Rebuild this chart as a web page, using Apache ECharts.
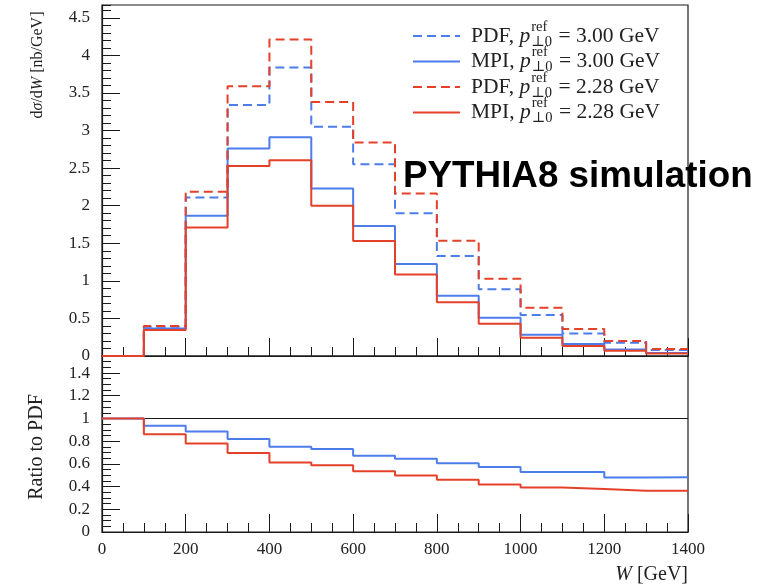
<!DOCTYPE html>
<html>
<head>
<meta charset="utf-8">
<script src="https://cdn.jsdelivr.net/npm/echarts@6/dist/echarts.min.js"></script>
<style>
  html, body { margin: 0; padding: 0; background: #fff; }
  #chart { width: 758px; height: 587px; }
</style>
</head>
<body>
<div id="chart"></div>
<script>
// Bin edges in W [GeV]
const binEdges = [0, 100, 200, 300, 400, 500, 600, 700, 800, 900, 1000, 1100, 1200, 1300, 1400];

// dσ/dW [nb/GeV] per bin
const pdf300 = [0, 0.39, 2.11, 3.34, 3.84, 3.05, 2.55, 1.90, 1.33, 0.887, 0.545, 0.30, 0.177, 0.08];
const mpi300 = [0, 0.365, 1.866, 2.76, 2.91, 2.23, 1.73, 1.223, 0.80, 0.51, 0.283, 0.158, 0.087, 0.04];
const pdf228 = [0, 0.40, 2.185, 3.59, 4.21, 3.38, 2.84, 2.163, 1.533, 1.028, 0.642, 0.359, 0.20, 0.093];
const mpi228 = [0, 0.345, 1.711, 2.527, 2.606, 2.0, 1.53, 1.086, 0.714, 0.43, 0.243, 0.133, 0.07, 0.034];

// MPI / PDF ratio per bin
const ratio300 = [1, 0.935, 0.885, 0.82, 0.75, 0.732, 0.672, 0.646, 0.605, 0.572, 0.528, 0.528, 0.48, 0.483];
const ratio228 = [1, 0.861, 0.78, 0.696, 0.613, 0.587, 0.534, 0.498, 0.46, 0.419, 0.392, 0.378, 0.363, 0.363];

// Legend entries
const legendLabels = ['PDF', 'MPI', 'PDF', 'MPI'];
const legendPt0 = ['3.00', '3.00', '2.28', '2.28'];

const SERIF = '"Liberation Serif", "DejaVu Serif", serif';
const SANS = '"Liberation Sans", Arial, sans-serif';
const BLUE = '#4d7ceb';
const RED = '#e5402a';
const INK = '#1a1a1a';
const TXT = '#222';

const legendColors = [BLUE, BLUE, RED, RED];
const legendDashed = [true, false, true, false];
const DASH = [9, 5];

// histogram values -> step-line points (left edge of each bin, plus closing edge)
function steps(vals) {
  const pts = vals.map((v, i) => [binEdges[i], v]);
  pts.push([binEdges[vals.length], vals[vals.length - 1]]);
  return pts;
}

const measureCtx = document.createElement('canvas').getContext('2d');
function textWidth(str, font) {
  measureCtx.font = font;
  return measureCtx.measureText(str).width;
}

const plotLeft = 102, plotWidth = 586;
const upperTop = 5, upperHeight = 351;
const lowerTop = 356, lowerHeight = 176;

const frame = { show: true, borderColor: INK, borderWidth: 1.2, backgroundColor: 'transparent' };

function xAxisCfg(grid, labels) {
  return {
    gridIndex: grid, type: 'value', min: 0, max: 1400, interval: 200,
    axisLine: { show: true, lineStyle: { color: INK, width: 1.2 } },
    axisTick: { show: true, inside: true, length: 18, lineStyle: { color: INK, width: 1 } },
    minorTick: { show: true, splitNumber: 4, length: 9, lineStyle: { color: INK, width: 1 } },
    axisLabel: { show: labels, margin: 9, fontFamily: SERIF, fontSize: 17, color: TXT, formatter: v => String(v) },
    splitLine: { show: false }, minorSplitLine: { show: false }
  };
}
function yMajorCfg(grid, max, interval) {
  return {
    gridIndex: grid, type: 'value', min: 0, max: max, interval: interval,
    axisLine: { show: true, lineStyle: { color: INK, width: 1.2 } },
    axisTick: { show: true, inside: true, length: 18, lineStyle: { color: INK, width: 1 } },
    axisLabel: { show: true, margin: 12, fontFamily: SERIF, fontSize: 17, color: TXT, showMaxLabel: false },
    splitLine: { show: false }
  };
}
function yMinorCfg(grid, max, interval) {
  return {
    gridIndex: grid, type: 'value', min: 0, max: max, interval: interval,
    axisLine: { show: false },
    axisTick: { show: true, inside: true, length: 9, lineStyle: { color: INK, width: 1 } },
    axisLabel: { show: false },
    splitLine: { show: false }
  };
}
function hiddenX(grid) {
  return { gridIndex: grid, type: 'value', min: 0, max: 1400, show: false };
}

function histSeries(vals, color, dashed) {
  return {
    type: 'line', xAxisIndex: 0, yAxisIndex: 0, data: steps(vals), step: 'end',
    symbol: 'none', silent: true,
    lineStyle: { color: color, width: 2, type: dashed ? DASH : 'solid' }
  };
}
function ratioSeries(vals, color) {
  return {
    type: 'line', xAxisIndex: 1, yAxisIndex: 1, data: steps(vals), step: 'end',
    symbol: 'none', silent: true, z: 3,
    lineStyle: { color: color, width: 2 }
  };
}

// legend drawn as graphic pieces: sample line + "PDF, p_⊥0^ref = 3.00 GeV"
const legendGraphics = [];
const LEG_FS = 21.5, SCRIPT_FS = 14.5;
legendLabels.forEach((lab, i) => {
  const y = 36 + i * 25.5;
  legendGraphics.push({
    type: 'line', shape: { x1: 413, y1: y, x2: 460, y2: y },
    style: { stroke: legendColors[i], lineWidth: 2, lineDash: legendDashed[i] ? DASH : null }
  });
  let x = 471;
  const head = lab + ', ';
  legendGraphics.push({ type: 'text', x: x, y: y, style: { text: head, fontFamily: SERIF, fontSize: LEG_FS, fill: TXT, align: 'left', verticalAlign: 'middle' } });
  x += textWidth(head, LEG_FS + 'px ' + SERIF);
  legendGraphics.push({ type: 'text', x: x, y: y, style: { text: 'p', fontFamily: SERIF, fontStyle: 'italic', fontSize: LEG_FS, fill: TXT, align: 'left', verticalAlign: 'middle' } });
  x += textWidth('p', 'italic ' + LEG_FS + 'px ' + SERIF) + 1;
  legendGraphics.push({ type: 'text', x: x, y: y - 9, style: { text: 'ref', fontFamily: SERIF, fontSize: SCRIPT_FS, fill: TXT, align: 'left', verticalAlign: 'middle' } });
  legendGraphics.push({ type: 'text', x: x, y: y + 6, style: { text: '⊥0', fontFamily: SERIF, fontSize: SCRIPT_FS, fill: TXT, align: 'left', verticalAlign: 'middle' } });
  x += Math.max(textWidth('ref', SCRIPT_FS + 'px ' + SERIF), textWidth('⊥0', SCRIPT_FS + 'px ' + SERIF)) + 1;
  const tail = ' = ' + legendPt0[i] + ' GeV';
  legendGraphics.push({ type: 'text', x: x, y: y, style: { text: tail, fontFamily: SERIF, fontSize: LEG_FS, fill: TXT, align: 'left', verticalAlign: 'middle' } });
});

const titleRich = {
  n: { fontFamily: SERIF, fontSize: 16, fill: TXT, color: TXT },
  i: { fontFamily: SERIF, fontSize: 16, fontStyle: 'italic', fill: TXT, color: TXT }
};

const option = {
  animation: false,
  backgroundColor: '#fff',
  grid: [
    Object.assign({ left: plotLeft, top: upperTop, width: plotWidth, height: upperHeight }, frame),
    Object.assign({ left: plotLeft, top: lowerTop, width: plotWidth, height: lowerHeight }, frame),
    { left: plotLeft, top: upperTop, width: plotWidth, height: upperHeight, show: false },
    { left: plotLeft, top: lowerTop, width: plotWidth, height: lowerHeight, show: false }
  ],
  xAxis: [xAxisCfg(0, false), xAxisCfg(1, true), hiddenX(2), hiddenX(3)],
  yAxis: [
    yMajorCfg(0, 4.67, 0.5),
    yMajorCfg(1, 1.55, 0.2),
    yMinorCfg(2, 4.67, 0.1),
    yMinorCfg(3, 1.55, 0.05)
  ],
  series: [
    histSeries(pdf300, BLUE, true),
    histSeries(mpi300, BLUE, false),
    histSeries(pdf228, RED, true),
    histSeries(mpi228, RED, false),
    Object.assign(ratioSeries(ratio300, BLUE), {
      markLine: {
        silent: true, symbol: 'none', label: { show: false }, z: 1,
        lineStyle: { color: INK, width: 1.2, type: 'solid' },
        data: [{ yAxis: 1 }]
      }
    }),
    ratioSeries(ratio228, RED)
  ],
  graphic: [
    {
      type: 'text', x: 38, y: 65, rotation: Math.PI / 2,
      style: { text: '{n|d}{i|σ}{n|/d}{i|W}{n| [nb/GeV]}', rich: titleRich, align: 'center', verticalAlign: 'middle' }
    },
    {
      type: 'text', x: 37, y: 447, rotation: Math.PI / 2,
      style: { text: 'Ratio to PDF', fontFamily: SERIF, fontSize: 20, fill: TXT, align: 'center', verticalAlign: 'middle' }
    },
    {
      type: 'text', x: 688, y: 575,
      style: { text: '{i|W}{n| [GeV]}', rich: { n: Object.assign({}, titleRich.n, { fontSize: 20 }), i: Object.assign({}, titleRich.i, { fontSize: 20 }) }, align: 'right', verticalAlign: 'middle' }
    },
    {
      type: 'text', x: 403, y: 177, z: 10,
      style: { text: 'PYTHIA8 simulation', fontFamily: SANS, fontWeight: 'bold', fontSize: 36.8, fill: '#000', align: 'left', verticalAlign: 'middle' }
    }
  ].concat(legendGraphics)
};

const chart = echarts.init(document.getElementById('chart'), null, { renderer: 'canvas' });
chart.setOption(option);
</script>
</body>
</html>
